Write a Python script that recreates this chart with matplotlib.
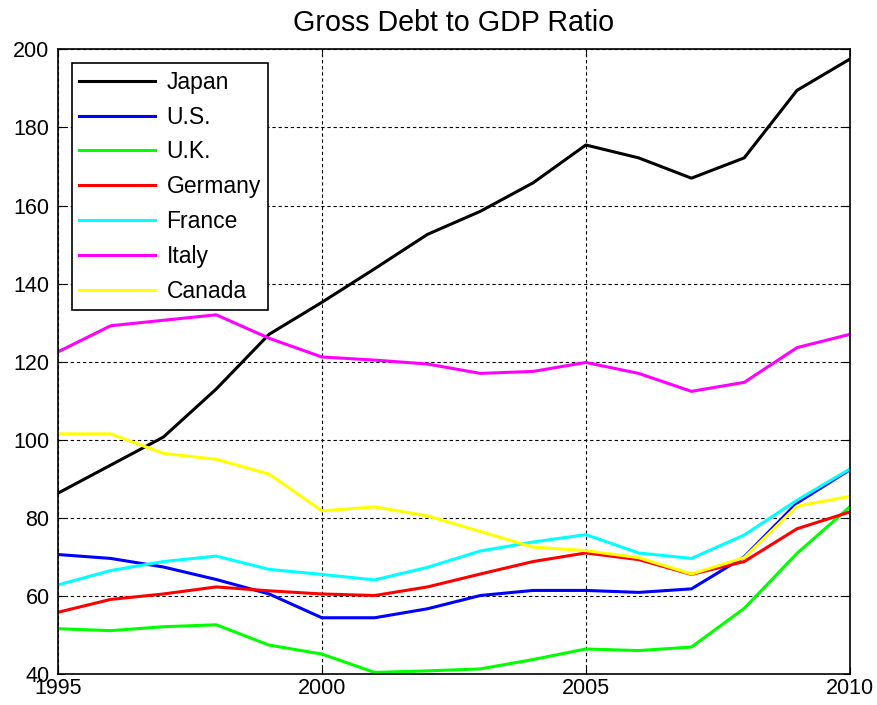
import matplotlib
matplotlib.use("Agg")
import matplotlib.pyplot as plt

plt.rcParams['font.family'] = ['Liberation Sans', 'DejaVu Sans']

years = list(range(1995, 2011))

japan = [86.3, 93.5, 100.7, 113.0, 127.0, 135.2, 143.8, 152.6, 158.5, 165.8, 175.5, 172.2, 167.0, 172.2, 189.5, 197.5]
us = [70.6, 69.6, 67.4, 64.2, 60.5, 54.4, 54.4, 56.7, 60.1, 61.4, 61.4, 60.9, 61.8, 70.0, 83.8, 92.3]
uk = [51.6, 51.1, 52.1, 52.6, 47.4, 45.1, 40.4, 40.8, 41.3, 43.7, 46.4, 46.0, 46.9, 56.8, 70.9, 82.8]
germany = [55.8, 59.1, 60.5, 62.3, 61.3, 60.5, 60.1, 62.3, 65.6, 68.8, 71.0, 69.3, 65.5, 68.8, 77.2, 81.5]
france = [62.8, 66.5, 68.8, 70.2, 66.8, 65.5, 64.1, 67.3, 71.5, 73.8, 75.7, 71.0, 69.6, 75.6, 84.5, 92.5]
italy = [122.5, 129.2, 130.6, 132.0, 126.0, 121.2, 120.4, 119.4, 117.0, 117.5, 119.8, 117.0, 112.4, 114.7, 123.6, 127.0]
canada = [101.5, 101.5, 96.5, 95.0, 91.2, 81.8, 82.8, 80.5, 76.5, 72.5, 71.6, 69.8, 65.6, 69.8, 83.0, 85.5]

labels = ["Japan", "U.S.", "U.K.", "Germany", "France", "Italy", "Canada"]
colors = ["#000000", "#0000ff", "#00ff00", "#ff0000", "#00ffff", "#ff00ff", "#ffff00"]
series = [japan, us, uk, germany, france, italy, canada]

fig = plt.figure(figsize=(8.77, 7.05), dpi=100)
ax = fig.add_axes([0.066, 0.044, 0.903, 0.886])

for y, c, lab in zip(series, colors, labels):
    ax.plot(years, y, color=c, lw=2.2, label=lab)

ax.set_xlim(1995, 2010)
ax.set_ylim(40, 200)
ax.set_xticks([1995, 2000, 2005, 2010])
ax.set_yticks(range(40, 201, 20))
ax.grid(True, color="black", linestyle=(0, (3, 2.5)), linewidth=0.8)
ax.tick_params(direction="in", top=True, right=True, labelsize=15.5, length=5)
ax.tick_params(axis="x", pad=3)
ax.tick_params(axis="y", pad=6)
for s in ax.spines.values():
    s.set_linewidth(1.2)

ax.set_title("Gross Debt to GDP Ratio", fontsize=20.6, pad=13)

leg = ax.legend(loc="upper left", fontsize=16.5, handlelength=3.3, handletextpad=0.5,
                labelspacing=0.52, borderpad=0.32, fancybox=False, framealpha=1,
                bbox_to_anchor=(0.012, 0.985), borderaxespad=0.2)
leg.get_frame().set_edgecolor("black")
leg.get_frame().set_linewidth(1.2)

fig.savefig("out.png", dpi=100)
